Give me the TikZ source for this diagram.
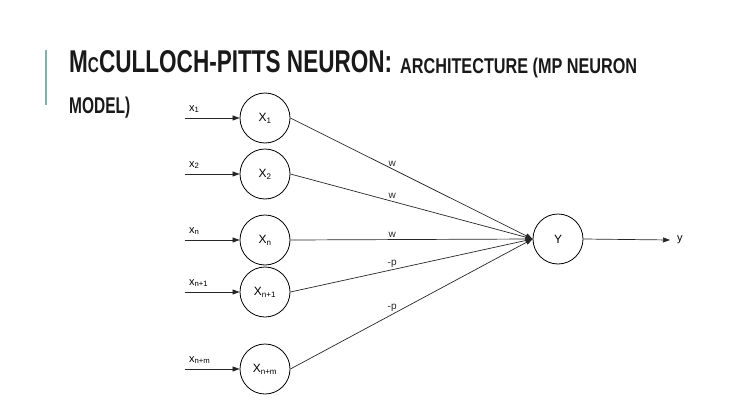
\documentclass[tikz,border=0pt]{standalone}
\usepackage{fontspec}
\setmainfont{Liberation Sans}
\usetikzlibrary{arrows.meta}

\definecolor{barteal}{RGB}{128,178,172}
\definecolor{titleink}{RGB}{25,25,25}

\begin{document}
\begin{tikzpicture}[x=1pt, y=-1pt, >={Triangle[length=7pt, width=5pt]},
    neuron/.style={draw, circle, minimum size=50pt, inner sep=0pt,
                   line width=0.8pt, font=\fontsize{12}{13}\selectfont},
    wire/.style={->, black!85, line width=0.7pt},
    inlbl/.style={font=\fontsize{11}{12}\selectfont, inner sep=0pt},
    wlbl/.style={font=\fontsize{10}{11}\selectfont, inner sep=2pt},
    ttl/.style={anchor=base west, inner sep=0pt, text=titleink, font=\bfseries}]

    \useasboundingbox (0,0) rectangle (739,415);

    % ── Title ────────────────────────────────────────────────────────────────
    \draw[barteal, line width=1.5pt] (46,50) -- (46,105);
    \node[ttl] (title) at (69,72)
        {\resizebox{323pt}{22pt}{M\scalebox{0.68}{C}CULLOCH-PITTS NEURON:}};
    \node[ttl] (subtitle) at (400,73)
        {\resizebox{237pt}{15.5pt}{ARCHITECTURE (MP NEURON}};
    \node[ttl] (subtitle2) at (69,113)
        {\resizebox{61pt}{16.5pt}{MODEL)}};

    % ── Input neurons and their inputs ───────────────────────────────────────
    \foreach \nm/\yy/\sub in {1/118/1, 2/174/2, 3/240/n, 4/292/n+1, 5/369/n+m} {
        \node[neuron] (x\nm) at (265,\yy) {X\textsubscript{\sub}};
        \coordinate (in\nm) at (185,\yy);
        \draw[wire] (in\nm) -- (x\nm.west);
        \node[inlbl, anchor=base west] (lx\nm) at ([shift={(4,-7)}]in\nm)
            {x\textsubscript{\sub}};
    }

    % ── Output neuron ────────────────────────────────────────────────────────
    \node[neuron] (y) at (558,239) {Y};

    % ── Weighted connections ─────────────────────────────────────────────────
    \foreach \nm/\w in {1/w, 2/w, 3/w, 4/-p, 5/-p}
        \draw[wire] (x\nm.east) -- (y.west) node[wlbl, pos=0.42, above] {\w};

    % ── Output ───────────────────────────────────────────────────────────────
    \coordinate (out) at (670,240);
    \draw[wire] (y.east) -- (out);
    \node[inlbl, anchor=west] (ly) at ([shift={(7,0)}]out) {y};

\end{tikzpicture}
\end{document}
